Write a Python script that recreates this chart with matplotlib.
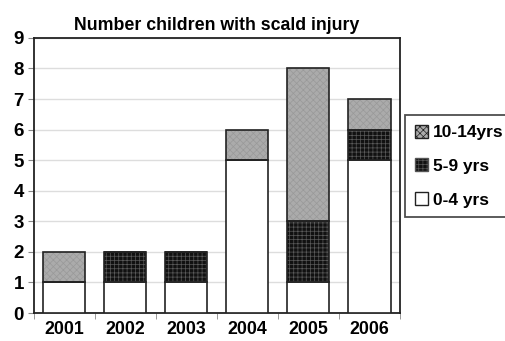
# stacked bars of scald injuries by age group
import numpy as np
import matplotlib.pyplot as plt
from matplotlib.patches import Patch

years = ["2001", "2002", "2003", "2004", "2005", "2006"]
age_0_4 = [1, 1, 1, 5, 1, 5]
age_5_9 = [0, 1, 1, 0, 2, 1]
age_10_14 = [1, 0, 0, 1, 5, 1]

plt.rcParams['font.family'] = ['Liberation Sans', 'DejaVu Sans']
plt.rcParams['font.weight'] = 'bold'
plt.rcParams['hatch.linewidth'] = 0.5

fig = plt.figure(figsize=(5.05, 3.41), dpi=100)
ax = fig.add_axes([0.067, 0.082, 0.725, 0.807])

x = np.arange(len(years))
w = 0.69
b1 = np.array(age_0_4)
b2 = b1 + np.array(age_5_9)

ax.bar(x, age_0_4, w, color='white', edgecolor='#222222', lw=1.2, zorder=3)
ax.bar(x, age_5_9, w, bottom=b1, color='#111111', edgecolor='#5a5a5a', hatch='++++', lw=0, zorder=3)
ax.bar(x, age_5_9, w, bottom=b1, fill=False, edgecolor='#222222', lw=1.2, zorder=4)
ax.bar(x, age_10_14, w, bottom=b2, color='#ababab', edgecolor='#999999', hatch='xxxxx', lw=0, zorder=3)
ax.bar(x, age_10_14, w, bottom=b2, fill=False, edgecolor='#222222', lw=1.2, zorder=4)

ax.set_xlim(-0.5, len(years) - 0.5)
ax.set_ylim(0, 9)
ax.set_yticks(range(0, 10))
ax.set_xticks(x)
ax.set_xticklabels(years)
ax.set_xticks(np.arange(-0.5, len(years)), minor=True)
ax.tick_params(axis='x', which='major', length=0, labelsize=12.8, pad=6)
ax.tick_params(axis='x', which='minor', length=4, color='#888888')
ax.tick_params(axis='y', length=4, labelsize=13.5, color='#888888', pad=3)
ax.grid(axis='y', color='#dddddd', lw=1, zorder=0)
for s in ax.spines.values():
    s.set_linewidth(1.3)
    s.set_color('#222222')
ax.set_title("Number children with scald injury", fontsize=12.8, fontweight='bold', pad=6)

handles = [
    Patch(facecolor='#ababab', edgecolor='#222222', hatch='xxxxx', label='10-14yrs'),
    Patch(facecolor='#111111', edgecolor='#555555', hatch='++++', label='5-9 yrs'),
    Patch(facecolor='white', edgecolor='#222222', label='0-4 yrs'),
]
leg = fig.legend(handles=handles, loc='upper left', bbox_to_anchor=(0.802, 0.662),
                 fontsize=12.5, frameon=True, fancybox=False, edgecolor='#222222',
                 handlelength=0.75, handleheight=0.75, handletextpad=0.3,
                 labelspacing=1.05, borderpad=0.55, borderaxespad=0)
leg.get_frame().set_linewidth(1.3)

plt.savefig("out.png", dpi=100)
